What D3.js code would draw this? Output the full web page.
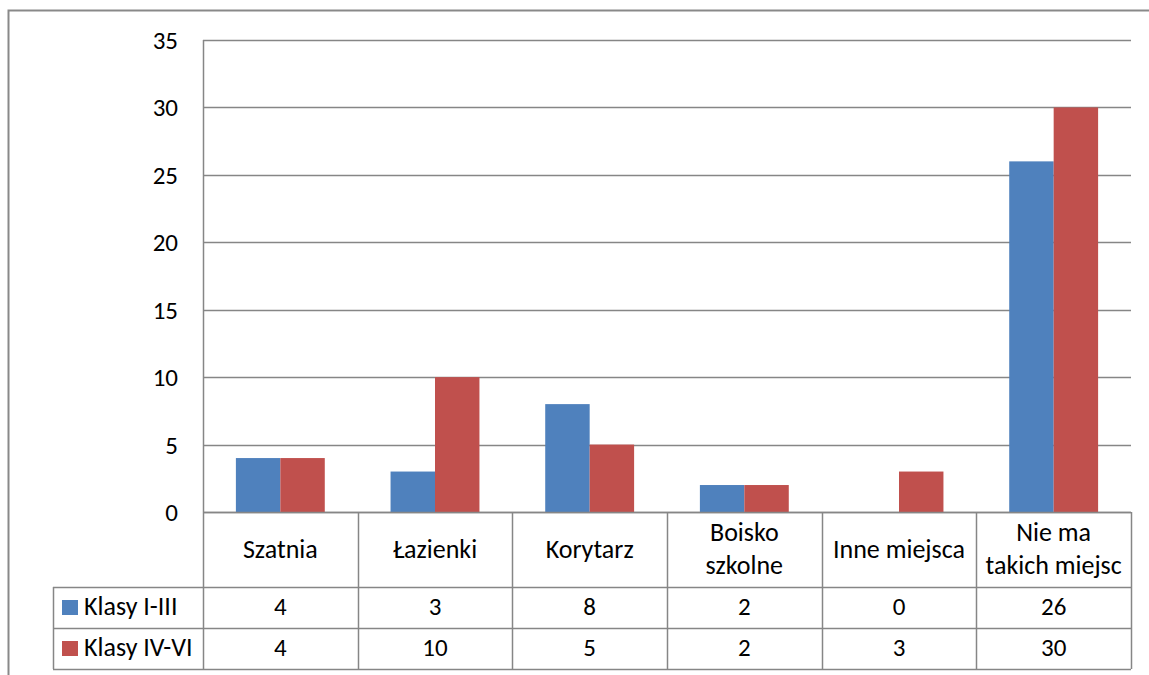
<!DOCTYPE html>
<html lang="pl">
<head>
<meta charset="utf-8">
<script src="https://d3js.org/d3.v7.min.js"></script>
<style>
  body { margin: 0; background: #fff; }
  svg text { font-family: Carlito, Lato, "Open Sans", sans-serif; fill: #000; }
</style>
</head>
<body>
<div id="chart"></div>
<script>
const categories = ["Szatnia", "Łazienki", "Korytarz", "Boisko\nszkolne", "Inne miejsca", "Nie ma\ntakich miejsc"];
const seriesNames = ["Klasy I-III", "Klasy IV-VI"];
const klasyI_III = [4, 3, 8, 2, 0, 26];
const klasyIV_VI = [4, 10, 5, 2, 3, 30];
const colors = ["#4f81bd", "#c0504d"];
const yTicks = [0, 5, 10, 15, 20, 25, 30, 35];

const W = 1149, H = 675;
const plot = {left: 203, right: 1131, top: 40, bottom: 512};
const catRowH = 75, rowH = 41, legendLeft = 53;
const grid = "#868686";
const fsNum = 25, fsText = 26;

const svg = d3.select("#chart").append("svg")
    .attr("width", W).attr("height", H);

// outer chart frame (cut off at right / bottom like the original)
svg.append("rect")
    .attr("x", 8.5).attr("y", 10.5)
    .attr("width", W + 10).attr("height", H + 10)
    .attr("fill", "none").attr("stroke", "#898989").attr("stroke-width", 2);

const x = d3.scaleBand().domain(categories).range([plot.left, plot.right]);
const y = d3.scaleLinear().domain([0, 35]).range([plot.bottom, plot.top]);
const xs = d3.scaleBand().domain(seriesNames).range([0, x.bandwidth()]).paddingOuter(0.74);

// gridlines
svg.append("g").selectAll("line").data(yTicks).join("line")
    .attr("x1", plot.left).attr("x2", plot.right)
    .attr("y1", d => Math.round(y(d)) + 0.5).attr("y2", d => Math.round(y(d)) + 0.5)
    .attr("stroke", grid).attr("stroke-width", 1.5);

// y axis labels
svg.append("g").selectAll("text").data(yTicks).join("text")
    .attr("x", 178).attr("y", d => y(d) + 9)
    .attr("text-anchor", "end").attr("font-size", fsNum)
    .text(d => d);

// bars
const series = [klasyI_III, klasyIV_VI];
series.forEach((vals, si) => {
    svg.append("g").selectAll("rect").data(vals).join("rect")
        .attr("x", (d, i) => x(categories[i]) + xs(seriesNames[si]))
        .attr("width", xs.bandwidth())
        .attr("y", d => y(d))
        .attr("height", d => y(0) - y(d))
        .attr("fill", colors[si]);
});

// y axis line
svg.append("line")
    .attr("x1", plot.left + 0.5).attr("x2", plot.left + 0.5)
    .attr("y1", plot.top).attr("y2", plot.bottom)
    .attr("stroke", grid).attr("stroke-width", 1.5);

// data table
const tableTop = plot.bottom;
const row1 = tableTop + catRowH, row2 = row1 + rowH, tableBottom = row2 + rowH;
const tg = svg.append("g").attr("stroke", grid).attr("stroke-width", 1.5);
tg.append("line").attr("x1", plot.left).attr("x2", plot.right).attr("y1", tableTop + 0.5).attr("y2", tableTop + 0.5);
[row1, row2, tableBottom].forEach(yy => {
    tg.append("line").attr("x1", legendLeft).attr("x2", plot.right).attr("y1", yy + 0.5).attr("y2", yy + 0.5);
});
tg.append("line").attr("x1", legendLeft + 0.5).attr("x2", legendLeft + 0.5).attr("y1", row1).attr("y2", tableBottom);
categories.forEach(c => {
    const xx = Math.round(x(c)) + 0.5;
    tg.append("line").attr("x1", xx).attr("x2", xx).attr("y1", tableTop).attr("y2", tableBottom);
});
tg.append("line").attr("x1", plot.right + 0.5).attr("x2", plot.right + 0.5).attr("y1", tableTop).attr("y2", tableBottom);

// category labels
categories.forEach(c => {
    const lines = c.split("\n");
    const cx = x(c) + x.bandwidth() / 2;
    const t = svg.append("text").attr("text-anchor", "middle").attr("font-size", fsText);
    const base = tableTop + 45.5;
    lines.forEach((ln, k) => {
        t.append("tspan").attr("x", cx)
            .attr("y", base + (k - (lines.length - 1) / 2) * 33)
            .text(ln);
    });
});

// legend cells + values
series.forEach((vals, si) => {
    const ry = row1 + si * rowH;
    svg.append("rect").attr("x", 62).attr("y", ry + 13).attr("width", 16).attr("height", 15)
        .attr("fill", colors[si]);
    svg.append("text").attr("x", 84).attr("y", ry + 27.5).attr("font-size", fsText)
        .text(seriesNames[si]);
    svg.append("g").selectAll("text").data(vals).join("text")
        .attr("x", (d, i) => x(categories[i]) + x.bandwidth() / 2)
        .attr("y", ry + 27.5)
        .attr("text-anchor", "middle").attr("font-size", fsNum)
        .text(d => d);
});
</script>
</body>
</html>
